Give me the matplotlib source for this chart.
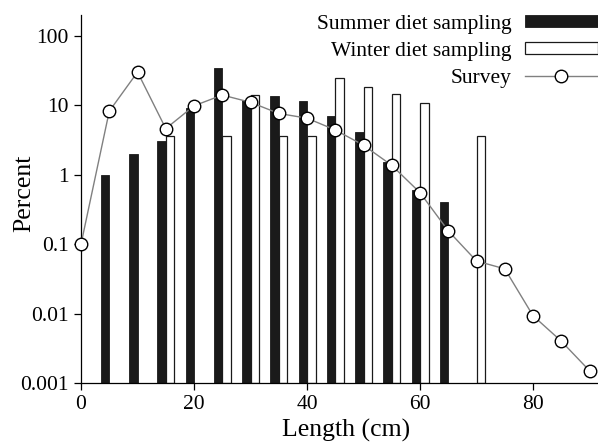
import matplotlib
matplotlib.use("Agg")
import matplotlib.pyplot as plt
from matplotlib.ticker import FixedLocator, FixedFormatter, NullLocator

plt.rcParams["font.family"] = ["Liberation Serif", "DejaVu Serif"]

# --- data ---
summer_len = [5, 10, 15, 20, 25, 30, 35, 40, 45, 50, 55, 60, 65]
summer_pct = [1.0, 2.0, 3.0, 9.0, 34, 12, 13.5, 11.5, 7.0, 4.1, 1.5, 0.6, 0.4]

winter_len = [15, 25, 30, 35, 40, 45, 50, 55, 60, 70]
winter_pct = [3.6, 3.6, 14, 3.6, 3.6, 25, 18, 14.3, 10.7, 3.6]

survey_len = [0, 5, 10, 15, 20, 25, 30, 35, 40, 45, 50, 55, 60, 65, 70, 75, 80, 85, 90]
survey_pct = [0.1, 8.2, 30, 4.6, 9.8, 14, 11, 7.6, 6.5, 4.4, 2.65, 1.36, 0.55,
              0.155, 0.057, 0.044, 0.0093, 0.004, 0.0015]

ytick_vals = [0.001, 0.01, 0.1, 1, 10, 100]
ytick_labels = ["0.001", "0.01", "0.1", "1", "10", "100"]

# --- plot ---
fig = plt.figure(figsize=(5.98, 4.43), dpi=100)
ax = fig.add_axes([0.1355, 0.1355, 0.8645, 0.831])

bw = 1.5
# summer bars sit just left of each length class, winter just right of it
b_summer = ax.bar([x - bw for x in summer_len], summer_pct, width=bw, align="edge",
                  bottom=0.001, color="#1a1a1a", edgecolor="#1a1a1a", linewidth=0.6,
                  label="Summer diet sampling", zorder=2)
b_winter = ax.bar(winter_len, winter_pct, width=bw, align="edge", bottom=0.001,
                  color="white", edgecolor="#1a1a1a", linewidth=0.9,
                  label="Winter diet sampling", zorder=2)

l_survey, = ax.plot(survey_len, survey_pct, color="#808080", linewidth=1.0, marker="o",
                    markersize=9, markerfacecolor="white", markeredgecolor="black",
                    markeredgewidth=1.0, label="Survey", clip_on=False, zorder=3)

ax.set_yscale("log")
ax.set_ylim(0.001, 200)
ax.set_xlim(0, 91.5)
ax.yaxis.set_major_locator(FixedLocator(ytick_vals))
ax.yaxis.set_major_formatter(FixedFormatter(ytick_labels))
ax.yaxis.set_minor_locator(NullLocator())
ax.set_xticks([0, 20, 40, 60, 80])

for s in ["top", "right"]:
    ax.spines[s].set_visible(False)
ax.spines["left"].set_linewidth(0.9)
ax.spines["bottom"].set_linewidth(0.9)
ax.tick_params(direction="out", length=5, width=0.9, labelsize=15.5, pad=4)

ax.set_xlabel("Length (cm)", fontsize=18.5)
ax.xaxis.set_label_coords(0.512, -0.097)
ax.set_ylabel("Percent", fontsize=18.5, va="center")
ax.yaxis.set_label_coords(-0.110, 0.515)

fig.legend([b_summer, b_winter, l_survey],
           ["Summer diet sampling", "Winter diet sampling", "Survey"],
           loc="upper right", bbox_to_anchor=(1.0, 0.967), frameon=False,
           markerfirst=False, fontsize=15.5, handlelength=3.4,
           handleheight=0.5, labelspacing=0.38, handletextpad=0.6,
           borderaxespad=0, borderpad=0)

fig.savefig("out.png", dpi=100)
